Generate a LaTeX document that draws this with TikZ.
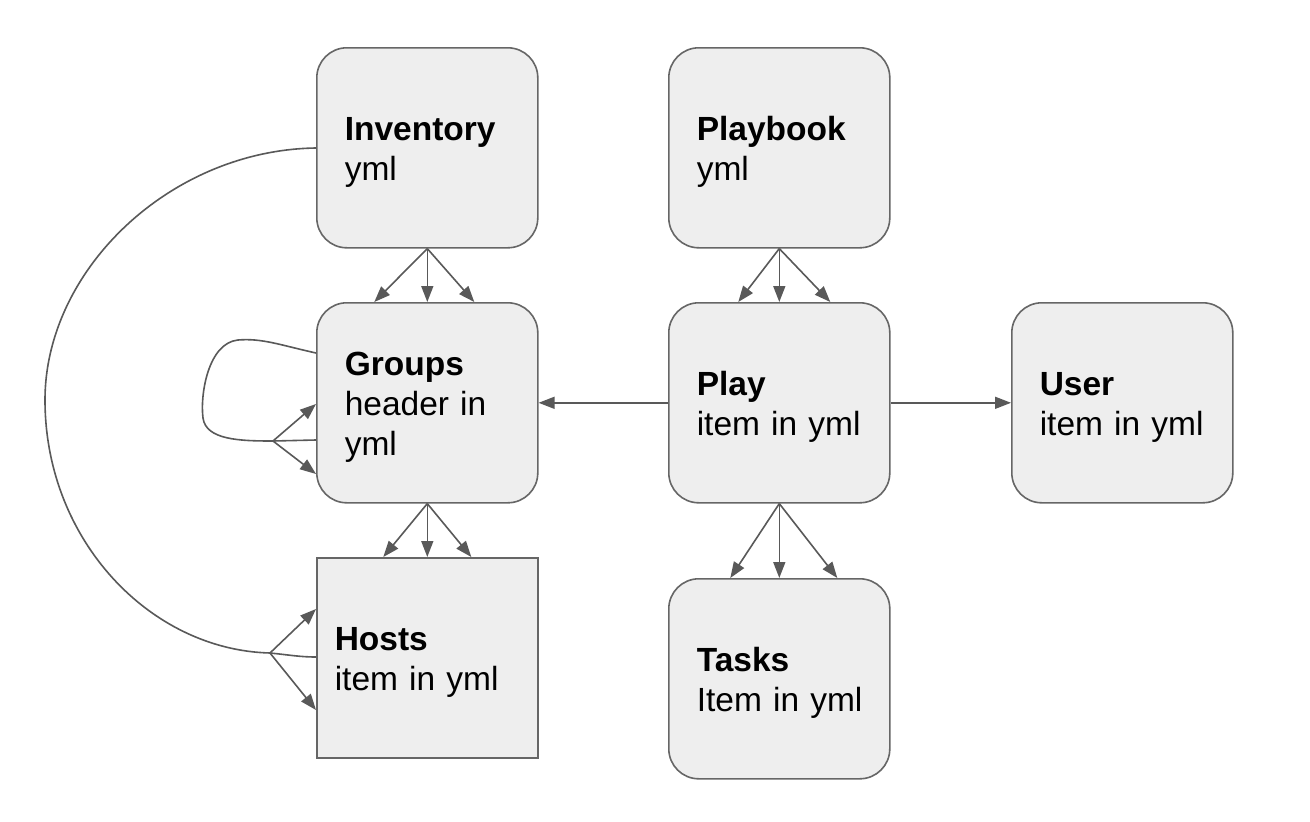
\documentclass[tikz,border=0pt]{standalone}
\usepackage{fontspec}
\setmainfont{Liberation Sans}
\usetikzlibrary{arrows.meta,calc}
\definecolor{boxfill}{HTML}{EEEEEE}
\definecolor{boxline}{HTML}{666666}
\definecolor{lineclr}{HTML}{595959}
\newcommand\toprule{\rule{0pt}{32.5pt}}
\begin{document}
\begin{tikzpicture}[x=1pt,y=-1pt,
  box/.style={draw=boxline, line width=1.6pt, fill=boxfill, rounded corners=30pt,
    minimum width=221pt, minimum height=200pt, inner xsep=28pt, text width=165pt,
    align=left, font=\fontsize{33.5}{40}\selectfont, anchor=north west},
  sqbox/.style={box, rounded corners=0pt, inner xsep=18pt, text width=185pt},
  arr/.style={draw=lineclr, line width=1.6pt, -{Triangle[length=16pt,width=12pt]}},
  plain/.style={draw=lineclr, line width=1.6pt}]
\useasboundingbox[fill=white] (0,0) rectangle (1310,822);

\node[box] (inv) at (316,47) {\toprule\textbf{Inventory}\\yml};
\node[box] (pb) at (668,47) {\toprule\textbf{Playbook}\\yml};
\node[box] (grp) at (316,302) {\toprule\textbf{Groups}\\header in\\yml};
\node[box] (play) at (668,302) {\toprule\textbf{Play}\\\mbox{item in yml}};
\node[box] (user) at (1011,302) {\toprule\textbf{User}\\\mbox{item in yml}};
\node[sqbox] (hosts) at (316,557) {\toprule\textbf{Hosts}\\\mbox{item in yml}};
\node[box] (tasks) at (668,578) {\toprule\textbf{Tasks}\\\mbox{Item in yml}};

% Inventory -> Groups
\draw[arr] (inv.south) -- ([xshift=-53pt]grp.north);
\draw[arr] (inv.south) -- (grp.north);
\draw[arr] (inv.south) -- ([xshift=47pt]grp.north);
% Groups -> Hosts
\draw[arr] (grp.south) -- ([xshift=-44pt]hosts.north);
\draw[arr] (grp.south) -- (hosts.north);
\draw[arr] (grp.south) -- ([xshift=44pt]hosts.north);
% Playbook -> Play
\draw[arr] (pb.south) -- ([xshift=-41pt]play.north);
\draw[arr] (pb.south) -- (play.north);
\draw[arr] (pb.south) -- ([xshift=51pt]play.north);
% Play -> Tasks
\draw[arr] (play.south) -- ([xshift=-49pt]tasks.north);
\draw[arr] (play.south) -- (tasks.north);
\draw[arr] (play.south) -- ([xshift=58pt]tasks.north);
% Play -> Groups, Play -> User
\draw[arr] (play.west) -- (grp.east);
\draw[arr] (play.east) -- (user.west);

% Groups self loop
\coordinate (gj) at (273,441);
\draw[plain] ($(grp.north west)+(0,51)$) .. controls (280,345) and (262,338) .. (238,340)
  .. controls (208,343) and (200,395) .. (203,418)
  .. controls (206,440) and (240,441) .. (gj) -- ($(grp.north west)+(0,138)$);
\draw[arr] (gj) -- ($(grp.north west)+(0,102)$);
\draw[arr] (gj) -- ($(grp.north west)+(0,172)$);

% Inventory -> Hosts arc
\coordinate (hj) at (270,653);
\draw[plain] ($(inv.north west)+(0,101)$) .. controls (170,150) and (45,270) .. (45,400)
  .. controls (45,540) and (150,650) .. (hj)
  .. controls (290,655) and (300,657) .. ($(hosts.north west)+(0,100)$);
\draw[arr] (hj) -- ($(hosts.north west)+(0,52)$);
\draw[arr] (hj) -- ($(hosts.north west)+(0,153)$);
\end{tikzpicture}
\end{document}
